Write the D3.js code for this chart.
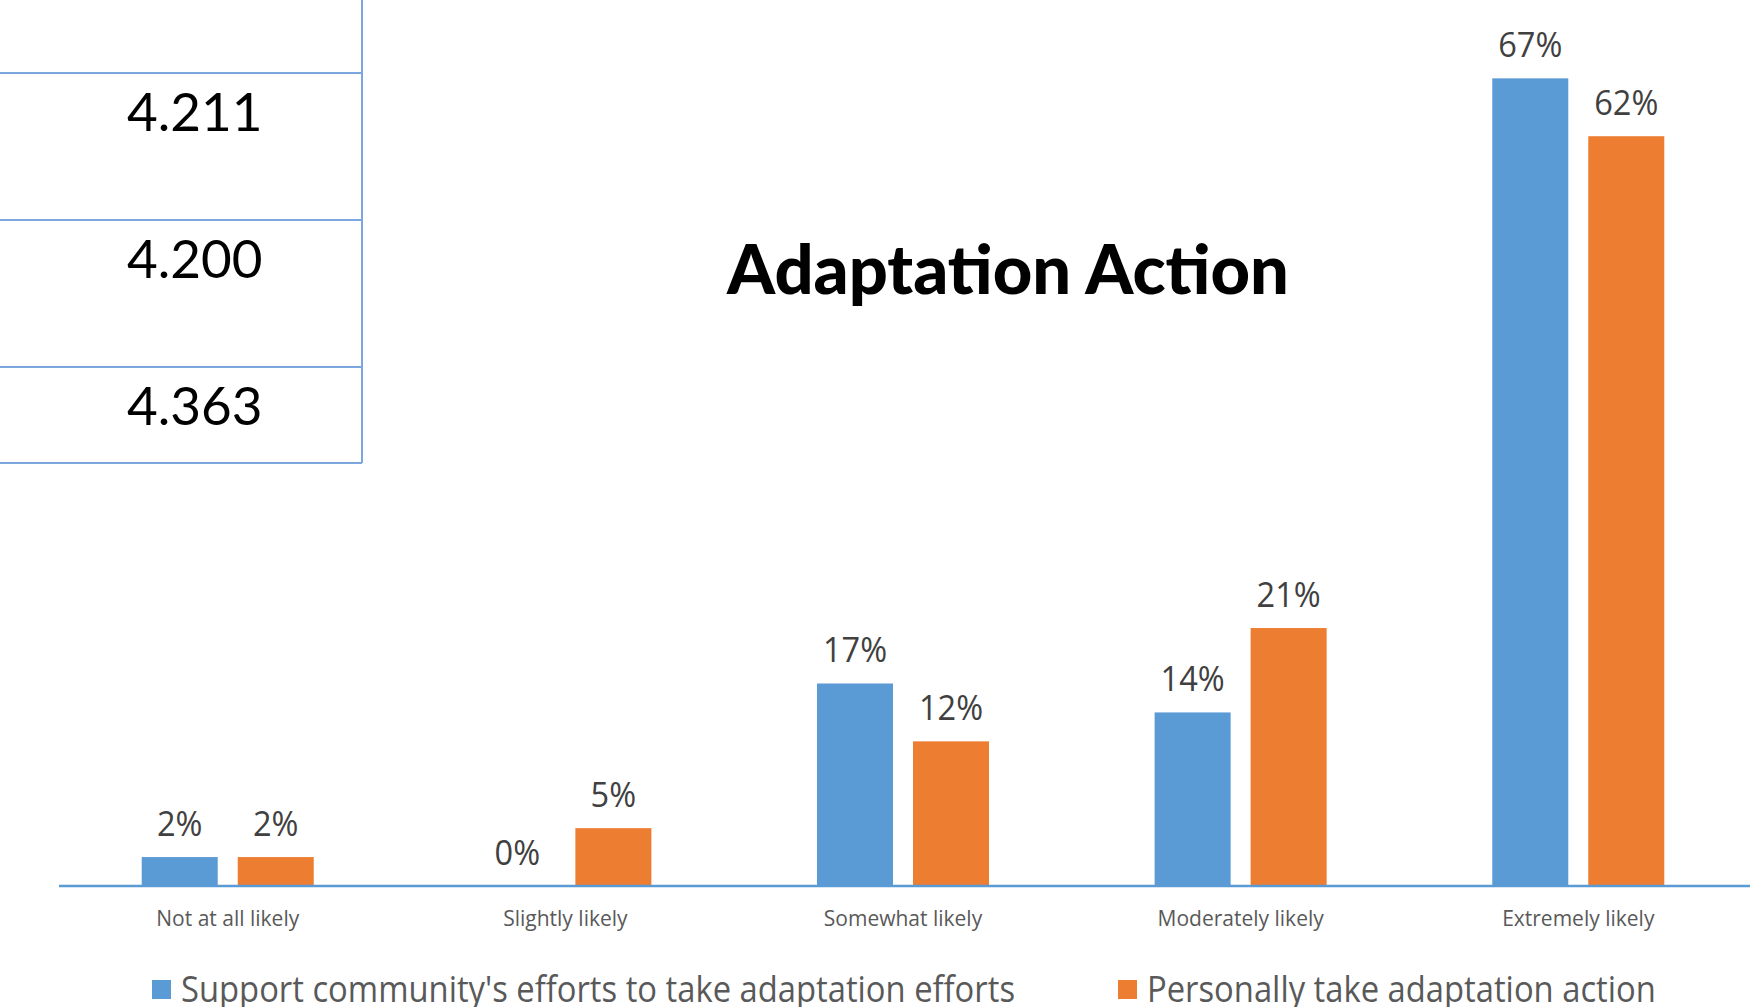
<!DOCTYPE html>
<html>
<head>
<meta charset="utf-8">
<script src="https://cdn.jsdelivr.net/npm/d3@7"></script>
<style>
  body { margin: 0; background: #fff; }
  svg { display: block; }
</style>
</head>
<body>
<div id="chart"></div>
<script>
// Adaptation Action — grouped bars, two series, five likelihood categories

const categories = ['Not at all likely', 'Slightly likely', 'Somewhat likely', 'Moderately likely', 'Extremely likely'];
const seriesNames = ["Support community's efforts to take adaptation efforts", 'Personally take adaptation action'];
const communityValues = [2.4, 0, 16.8, 14.4, 67.0];
const personalValues = [2.4, 4.8, 12.0, 21.4, 62.2];
const tableValues = ['4.211', '4.200', '4.363'];

const width = 1750;
const height = 1007;
const colors = ['#5b9bd5', '#ed7d31'];

const svg = d3.select('#chart').append('svg')
  .attr('width', width)
  .attr('height', height);

// squeeze Open Sans text down toward the narrower look of the original
function condense(sel, k) {
  sel.each(function() {
    const w = this.getComputedTextLength();
    d3.select(this).attr('textLength', w * k).attr('lengthAdjust', 'spacingAndGlyphs');
  });
}

// --- leftover table fragment at the top left
const tableRight = 362;
const rowTop = 73;
const rowH = 147;
const tableBottom = 463;
const tg = svg.append('g');
tg.append('line')
  .attr('x1', tableRight).attr('x2', tableRight)
  .attr('y1', 0).attr('y2', tableBottom)
  .attr('stroke', '#7ba7de').attr('stroke-width', 2);
tg.selectAll('line.h')
  .data([0, 1, 2])
  .enter().append('line')
  .attr('class', 'h')
  .attr('x1', 0).attr('x2', tableRight)
  .attr('y1', i => rowTop + i * rowH)
  .attr('y2', i => rowTop + i * rowH)
  .attr('stroke', '#7ba7de').attr('stroke-width', 2);
tg.append('line')
  .attr('x1', 0).attr('x2', tableRight)
  .attr('y1', tableBottom).attr('y2', tableBottom)
  .attr('stroke', '#7ba7de').attr('stroke-width', 2);
tg.selectAll('text')
  .data(tableValues)
  .enter().append('text')
  .attr('x', 127)
  .attr('y', (d, i) => rowTop + i * rowH + 58)
  .style('font-family', 'Lato, sans-serif')
  .style('font-size', '53px')
  .attr('fill', '#000')
  .text(d => d);

// --- bars
const x0 = d3.scaleBand()
  .domain(categories)
  .range([59, 1747])
  .paddingInner(0.4905)
  .paddingOuter(0.245);

const x1 = d3.scaleBand()
  .domain([0, 1])
  .range([0, x0.bandwidth()])
  .paddingInner(0.2083);

const y = d3.scaleLinear()
  .domain([0, 73.5])
  .range([886, 0]);

const rows = categories.map((c, i) => ({ cat: c, vals: [communityValues[i], personalValues[i]] }));

const groups = svg.append('g')
  .selectAll('g')
  .data(rows)
  .enter().append('g')
  .attr('transform', d => `translate(${x0(d.cat)},0)`);

groups.selectAll('rect')
  .data(d => d.vals.map((v, s) => ({ v, s })))
  .enter().append('rect')
  .attr('x', d => x1(d.s))
  .attr('width', x1.bandwidth())
  .attr('y', d => y(d.v))
  .attr('height', d => y(0) - y(d.v))
  .attr('fill', d => colors[d.s]);

const valLabels = groups.selectAll('text')
  .data(d => d.vals.map((v, s) => ({ v, s })))
  .enter().append('text')
  .attr('x', d => x1(d.s) + x1.bandwidth() / 2)
  .attr('y', d => y(d.v) - 21)
  .attr('text-anchor', 'middle')
  .style('font-family', 'Open Sans, sans-serif')
  .style('font-size', '35px')
  .attr('fill', '#404040')
  .text(d => Math.round(d.v) + '%');
condense(valLabels, 0.93);

// --- axis (line only, category labels below)
const xAxis = svg.append('g')
  .attr('transform', `translate(0,${y(0)})`)
  .call(d3.axisBottom(x0).tickSize(0).tickPadding(25));
xAxis.select('.domain')
  .attr('d', `M59,0H1750`)
  .attr('stroke', '#5b9bd5')
  .attr('stroke-width', 2.5);
xAxis.selectAll('.tick text')
  .attr('dy', '0.71em')
  .style('font-family', 'Open Sans, sans-serif')
  .style('font-size', '21px')
  .attr('fill', '#595959');

// --- title
svg.append('text')
  .attr('x', 727)
  .attr('y', 294)
  .style('font-family', 'Lato, sans-serif')
  .style('font-weight', 900)
  .style('font-size', '69px')
  .attr('fill', '#000')
  .attr('textLength', 562)
  .attr('lengthAdjust', 'spacingAndGlyphs')
  .text('Adaptation Action');

// --- legend
const legendX = [152, 1118];
const legend = svg.append('g')
  .selectAll('g')
  .data(seriesNames)
  .enter().append('g')
  .attr('transform', (d, i) => `translate(${legendX[i]},980)`);
legend.append('rect')
  .attr('width', 19)
  .attr('height', 19)
  .attr('fill', (d, i) => colors[i]);
const legendText = legend.append('text')
  .attr('x', 29)
  .attr('y', 22)
  .style('font-family', 'Open Sans, sans-serif')
  .style('font-size', '36px')
  .attr('fill', '#595959')
  .text(d => d);
condense(legendText, 0.91);
</script>
</body>
</html>
